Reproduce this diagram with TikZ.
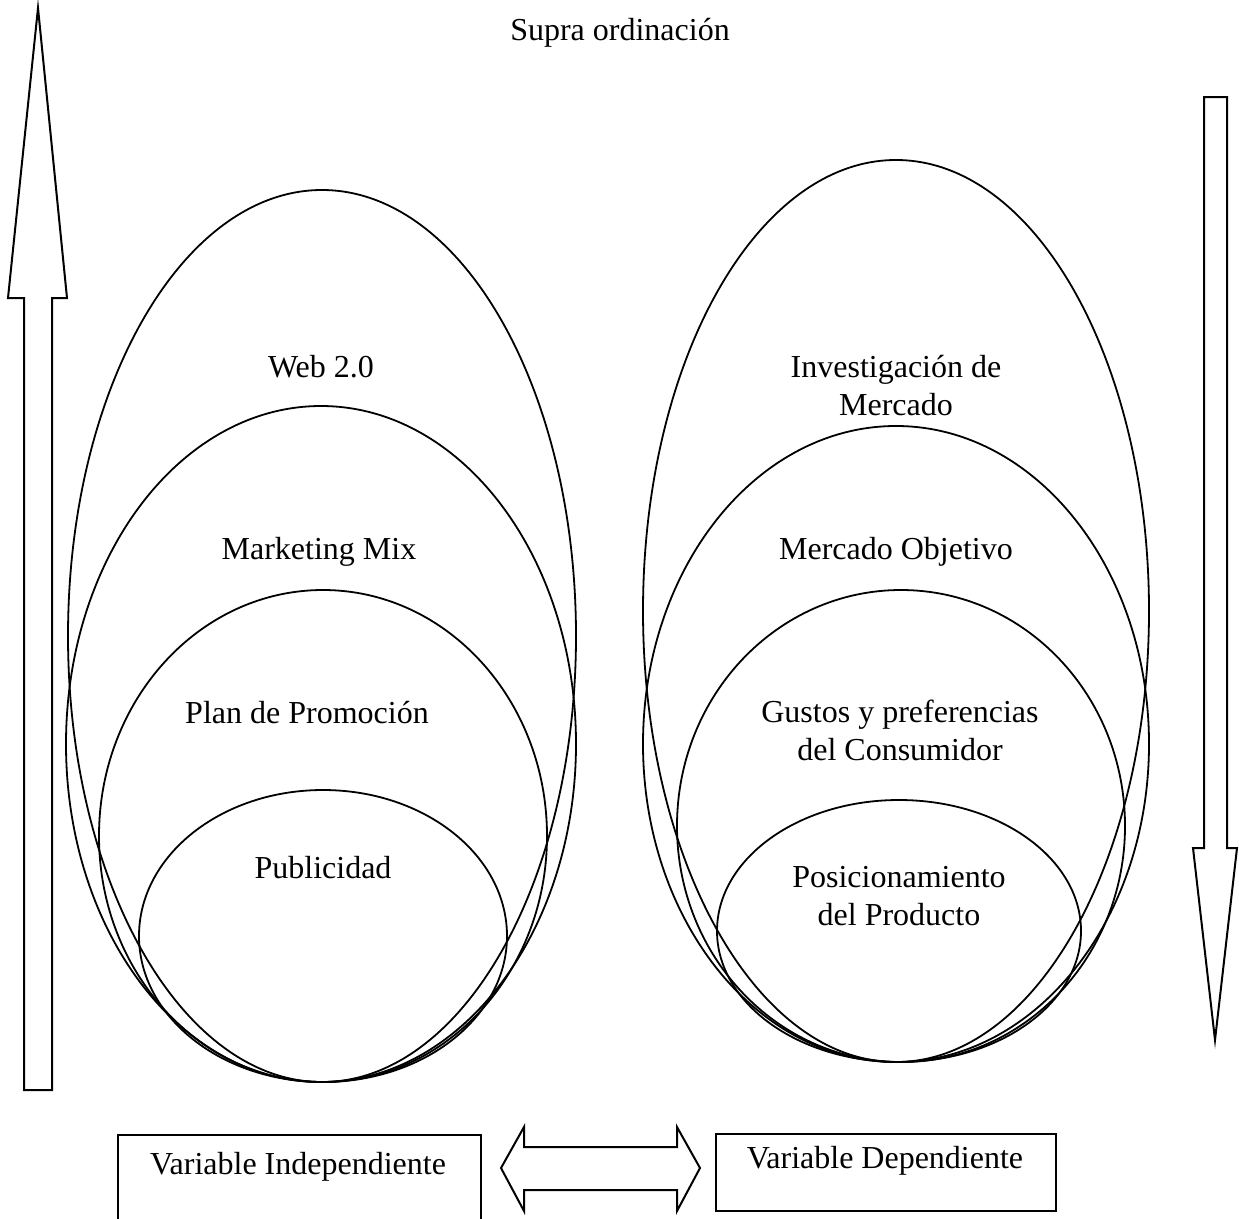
\documentclass[tikz,border=0pt]{standalone}
\usepackage{fontspec}
\setmainfont{Liberation Serif}
\begin{document}
\begin{tikzpicture}[x=1pt,y=-1pt,
  line width=2pt, line join=miter,
  lbl/.style={font=\fontsize{32}{38}\selectfont, align=center, inner sep=0pt},
  oval/.style={draw, line width=1.8pt},
  varbox/.style={draw, line width=1.8pt, rectangle, anchor=north west, inner sep=0pt}]
\path[use as bounding box] (0,0) rectangle (1239,1218);
\clip (0,0) rectangle (1239,1218);

% title
\node[lbl] (supra) at (620,33) {Supra ordinación};

% independent-variable nest
\draw[oval] (322,636) ellipse [x radius=254, y radius=446];
\draw[oval] (321,744) ellipse [x radius=255, y radius=338];
\draw[oval] (323,836) ellipse [x radius=224, y radius=246];
\draw[oval] (323,936) ellipse [x radius=184, y radius=146];
\node[lbl] (web) at (321,367) {Web 2.0};
\node[lbl] (mix) at (319,552) {Marketing Mix};
\node[lbl] (plan) at (307,713) {Plan de Promoción};
\node[lbl] (pub) at (323,868) {Publicidad};

% dependent-variable nest
\draw[oval] (896,611) ellipse [x radius=253, y radius=451];
\draw[oval] (896,744) ellipse [x radius=253, y radius=318];
\draw[oval] (901,826) ellipse [x radius=224, y radius=236];
\draw[oval] (899,931) ellipse [x radius=182, y radius=131];
\node[lbl] (inv) at (896,386) {Investigación de\\Mercado};
\node[lbl] (obj) at (896,552) {Mercado Objetivo};
\node[lbl] (gus) at (900,730) {Gustos y preferencias\\del Consumidor};
\node[lbl] (pos) at (899,896) {Posicionamiento\\del Producto};

% upward arrow on the left
\draw (38,8) -- (67,298) -- (52,298) -- (52,1090) -- (24,1090) -- (24,298) -- (8,298) -- cycle;
% downward arrow on the right
\draw (1204,97) -- (1227,97) -- (1227,848) -- (1237,848) -- (1215,1040) -- (1193,848) -- (1204,848) -- cycle;

% variable boxes
\node[varbox, minimum width=363, minimum height=110] (vi) at (117,1134) {};
\node[lbl] (vit) at (298,1167) {Variable Independiente};
\node[varbox, minimum width=340, minimum height=77] (vd) at (715,1133) {};
\node[lbl] (vdt) at (885,1161) {Variable Dependiente};

% double arrow between the boxes
\draw (501,1168) -- (524,1127) -- (524,1147) -- (677,1147) -- (677,1127)
  -- (700,1168) -- (677,1211) -- (677,1190) -- (524,1190) -- (524,1211) -- cycle;
\end{tikzpicture}
\end{document}
